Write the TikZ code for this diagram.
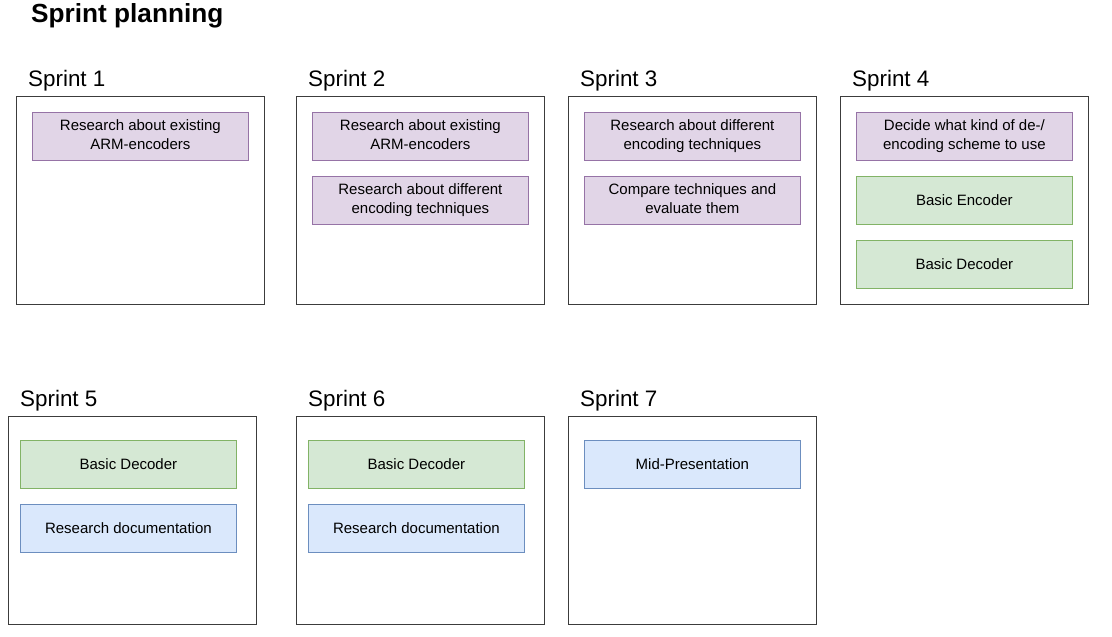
\documentclass[tikz,border=0pt]{standalone}
\usepackage{fontspec}
\setmainfont{Liberation Sans}
\usepackage{tikz}
\usetikzlibrary{positioning}
\definecolor{purplefill}{HTML}{E1D5E7}
\definecolor{purpleline}{HTML}{9673A6}
\definecolor{greenfill}{HTML}{D5E8D4}
\definecolor{greenline}{HTML}{82B366}
\definecolor{bluefill}{HTML}{DAE8FC}
\definecolor{blueline}{HTML}{6C8EBF}
\definecolor{frameline}{HTML}{3C3C3C}

\begin{document}
\begin{tikzpicture}[x=1pt, y=-1pt,
        sprint/.style={rectangle, draw=frameline, line width=0.9pt, minimum width=248pt, minimum height=208pt, anchor=north west, inner sep=0pt},
        sprintlabel/.style={anchor=base west, inner sep=0pt, font=\fontsize{22.4}{26}\selectfont},
        card/.style={rectangle, line width=0.8pt, minimum width=216pt, minimum height=48pt, anchor=north west, align=center, inner sep=0pt, font=\fontsize{15}{19}\selectfont},
        research/.style={card, draw=purpleline, fill=purplefill, text depth=3.2pt},
        coding/.style={card, draw=greenline, fill=greenfill},
        docs/.style={card, draw=blueline, fill=bluefill}]

        \useasboundingbox (0,0) rectangle (1112,637);

        \node[anchor=base west, inner sep=0pt, font=\fontsize{26.2}{30}\selectfont\bfseries] (title) at (31,23) {Sprint planning};

        \node[sprintlabel] (lab1) at (28,86) {Sprint 1};
        \node[sprintlabel] (lab2) at (308,86) {Sprint 2};
        \node[sprintlabel] (lab3) at (580,86) {Sprint 3};
        \node[sprintlabel] (lab4) at (852,86) {Sprint 4};
        \node[sprintlabel] (lab5) at (20,406) {Sprint 5};
        \node[sprintlabel] (lab6) at (308,406) {Sprint 6};
        \node[sprintlabel] (lab7) at (580,406) {Sprint 7};

        \node[sprint] (s1) at (16,96) {};
        \node[sprint] (s2) at (296,96) {};
        \node[sprint] (s3) at (568,96) {};
        \node[sprint] (s4) at (840,96) {};
        \node[sprint] (s5) at (8,416) {};
        \node[sprint] (s6) at (296,416) {};
        \node[sprint] (s7) at (568,416) {};

        \node[research] (c11) at (32,112) {Research about existing\\ARM-encoders};

        \node[research] (c21) at (312,112) {Research about existing\\ARM-encoders};
        \node[research] (c22) at (312,176) {Research about different\\encoding techniques};

        \node[research] (c31) at (584,112) {Research about different\\encoding techniques};
        \node[research] (c32) at (584,176) {Compare techniques and\\evaluate them};

        \node[research] (c41) at (856,112) {Decide what kind of de-/\\encoding scheme to use};
        \node[coding] (c42) at (856,176) {Basic Encoder};
        \node[coding] (c43) at (856,240) {Basic Decoder};

        \node[coding] (c51) at (20,440) {Basic Decoder};
        \node[docs] (c52) at (20,504) {Research documentation};

        \node[coding] (c61) at (308,440) {Basic Decoder};
        \node[docs] (c62) at (308,504) {Research documentation};

        \node[docs] (c71) at (584,440) {Mid-Presentation};

    \end{tikzpicture}
\end{document}
